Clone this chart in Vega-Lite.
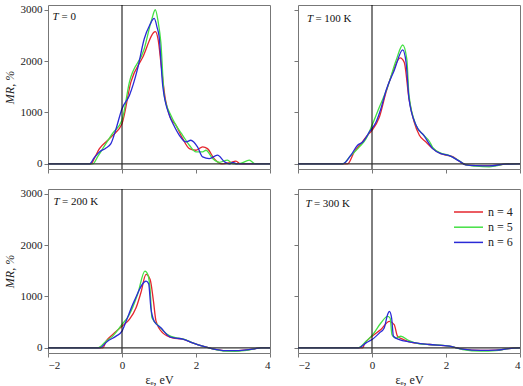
{
 "$schema": "https://vega.github.io/schema/vega-lite/v6.json",
 "padding": {"left": 2, "top": 3, "right": 0, "bottom": 0},
 "columns": 2,
 "bounds": "flush",
 "spacing": {"row": 20, "column": 28},
 "datasets": {
  "t0": [
   {"n":4,"e":-2,"mr":0},{"n":4,"e":-0.84,"mr":0},{"n":4,"e":-0.72,"mr":150},{"n":4,"e":-0.61,"mr":296},{"n":4,"e":-0.4,"mr":450},{"n":4,"e":-0.25,"mr":556},{"n":4,"e":0,"mr":781},{"n":4,"e":0.24,"mr":1590},{"n":4,"e":0.56,"mr":2073},{"n":4,"e":0.9,"mr":2571},{"n":4,"e":0.98,"mr":2400},{"n":4,"e":1.05,"mr":1977},{"n":4,"e":1.17,"mr":1265},{"n":4,"e":1.3,"mr":910},{"n":4,"e":1.46,"mr":750},{"n":4,"e":1.64,"mr":490},{"n":4,"e":1.82,"mr":297},{"n":4,"e":2.0,"mr":265},{"n":4,"e":2.18,"mr":330},{"n":4,"e":2.31,"mr":296},{"n":4,"e":2.49,"mr":103},{"n":4,"e":2.7,"mr":0},{"n":4,"e":2.9,"mr":20},{"n":4,"e":3.08,"mr":52},{"n":4,"e":3.2,"mr":0},{"n":4,"e":4,"mr":0},
   {"n":5,"e":-2,"mr":0},{"n":5,"e":-0.79,"mr":0},{"n":5,"e":-0.65,"mr":150},{"n":5,"e":-0.52,"mr":296},{"n":5,"e":-0.25,"mr":600},{"n":5,"e":0,"mr":847},{"n":5,"e":0.2,"mr":1590},{"n":5,"e":0.6,"mr":2235},{"n":5,"e":0.8,"mr":2800},{"n":5,"e":0.9,"mr":2998},{"n":5,"e":0.98,"mr":2750},{"n":5,"e":1.05,"mr":2364},{"n":5,"e":1.14,"mr":1331},{"n":5,"e":1.32,"mr":944},{"n":5,"e":1.46,"mr":750},{"n":5,"e":1.64,"mr":556},{"n":5,"e":1.82,"mr":362},{"n":5,"e":2.0,"mr":232},{"n":5,"e":2.18,"mr":232},{"n":5,"e":2.27,"mr":265},{"n":5,"e":2.45,"mr":103},{"n":5,"e":2.63,"mr":30},{"n":5,"e":2.85,"mr":71},{"n":5,"e":3.0,"mr":0},{"n":5,"e":3.2,"mr":10},{"n":5,"e":3.44,"mr":71},{"n":5,"e":3.6,"mr":0},{"n":5,"e":4,"mr":0},
   {"n":6,"e":-2,"mr":0},{"n":6,"e":-0.88,"mr":0},{"n":6,"e":-0.75,"mr":120},{"n":6,"e":-0.61,"mr":232},{"n":6,"e":-0.45,"mr":300},{"n":6,"e":-0.3,"mr":394},{"n":6,"e":-0.16,"mr":684},{"n":6,"e":0,"mr":1072},{"n":6,"e":0.2,"mr":1331},{"n":6,"e":0.42,"mr":1847},{"n":6,"e":0.6,"mr":2428},{"n":6,"e":0.75,"mr":2700},{"n":6,"e":0.87,"mr":2829},{"n":6,"e":0.95,"mr":2650},{"n":6,"e":1.0,"mr":2494},{"n":6,"e":1.1,"mr":1525},{"n":6,"e":1.28,"mr":944},{"n":6,"e":1.4,"mr":750},{"n":6,"e":1.55,"mr":556},{"n":6,"e":1.73,"mr":426},{"n":6,"e":1.86,"mr":459},{"n":6,"e":2.04,"mr":330},{"n":6,"e":2.18,"mr":135},{"n":6,"e":2.36,"mr":103},{"n":6,"e":2.58,"mr":168},{"n":6,"e":2.77,"mr":40},{"n":6,"e":2.9,"mr":0},{"n":6,"e":3.0,"mr":30},{"n":6,"e":3.1,"mr":0},{"n":6,"e":4,"mr":0}
  ],
  "t100": [
   {"n":4,"e":-2,"mr":0},{"n":4,"e":-0.66,"mr":0},{"n":4,"e":-0.48,"mr":232},{"n":4,"e":-0.3,"mr":394},{"n":4,"e":-0.12,"mr":556},{"n":4,"e":0,"mr":653},{"n":4,"e":0.2,"mr":911},{"n":4,"e":0.38,"mr":1395},{"n":4,"e":0.56,"mr":1783},{"n":4,"e":0.76,"mr":2060},{"n":4,"e":0.87,"mr":1977},{"n":4,"e":1.0,"mr":1266},{"n":4,"e":1.14,"mr":814},{"n":4,"e":1.28,"mr":556},{"n":4,"e":1.46,"mr":426},{"n":4,"e":1.64,"mr":297},{"n":4,"e":1.86,"mr":200},{"n":4,"e":2.0,"mr":170},{"n":4,"e":2.18,"mr":140},{"n":4,"e":2.36,"mr":52},{"n":4,"e":2.54,"mr":-20},{"n":4,"e":2.81,"mr":-35},{"n":4,"e":3.17,"mr":-40},{"n":4,"e":3.35,"mr":-30},{"n":4,"e":3.6,"mr":-5},{"n":4,"e":4,"mr":0},
   {"n":5,"e":-2,"mr":0},{"n":5,"e":-0.79,"mr":0},{"n":5,"e":-0.61,"mr":135},{"n":5,"e":-0.34,"mr":330},{"n":5,"e":-0.16,"mr":490},{"n":5,"e":0,"mr":750},{"n":5,"e":0.2,"mr":1105},{"n":5,"e":0.42,"mr":1492},{"n":5,"e":0.65,"mr":2009},{"n":5,"e":0.83,"mr":2312},{"n":5,"e":0.94,"mr":2041},{"n":5,"e":1.0,"mr":1331},{"n":5,"e":1.19,"mr":750},{"n":5,"e":1.4,"mr":556},{"n":5,"e":1.55,"mr":440},{"n":5,"e":1.64,"mr":320},{"n":5,"e":1.86,"mr":210},{"n":5,"e":2.09,"mr":162},{"n":5,"e":2.36,"mr":60},{"n":5,"e":2.54,"mr":-20},{"n":5,"e":2.81,"mr":-45},{"n":5,"e":3.17,"mr":-58},{"n":5,"e":3.35,"mr":-40},{"n":5,"e":3.6,"mr":-5},{"n":5,"e":4,"mr":0},
   {"n":6,"e":-2,"mr":0},{"n":6,"e":-0.79,"mr":0},{"n":6,"e":-0.57,"mr":168},{"n":6,"e":-0.39,"mr":362},{"n":6,"e":-0.25,"mr":426},{"n":6,"e":-0.07,"mr":620},{"n":6,"e":0.11,"mr":814},{"n":6,"e":0.24,"mr":1072},{"n":6,"e":0.38,"mr":1428},{"n":6,"e":0.6,"mr":1816},{"n":6,"e":0.83,"mr":2217},{"n":6,"e":0.92,"mr":1977},{"n":6,"e":1.0,"mr":1266},{"n":6,"e":1.19,"mr":750},{"n":6,"e":1.4,"mr":556},{"n":6,"e":1.64,"mr":297},{"n":6,"e":1.86,"mr":200},{"n":6,"e":2.09,"mr":162},{"n":6,"e":2.36,"mr":52},{"n":6,"e":2.54,"mr":-20},{"n":6,"e":2.81,"mr":-35},{"n":6,"e":3.17,"mr":-40},{"n":6,"e":3.6,"mr":-5},{"n":6,"e":4,"mr":0}
  ],
  "t200": [
   {"n":4,"e":-2,"mr":0},{"n":4,"e":-0.52,"mr":0},{"n":4,"e":-0.43,"mr":130},{"n":4,"e":-0.25,"mr":260},{"n":4,"e":0,"mr":421},{"n":4,"e":0.2,"mr":552},{"n":4,"e":0.38,"mr":779},{"n":4,"e":0.51,"mr":1071},{"n":4,"e":0.65,"mr":1428},{"n":4,"e":0.76,"mr":1330},{"n":4,"e":0.85,"mr":909},{"n":4,"e":0.92,"mr":519},{"n":4,"e":1.1,"mr":292},{"n":4,"e":1.37,"mr":195},{"n":4,"e":1.64,"mr":170},{"n":4,"e":1.91,"mr":97},{"n":4,"e":2.18,"mr":32},{"n":4,"e":2.45,"mr":-20},{"n":4,"e":2.8,"mr":-55},{"n":4,"e":3.05,"mr":-55},{"n":4,"e":3.3,"mr":-45},{"n":4,"e":3.58,"mr":-20},{"n":4,"e":3.75,"mr":0},{"n":4,"e":4,"mr":0},
   {"n":5,"e":-2,"mr":0},{"n":5,"e":-0.66,"mr":0},{"n":5,"e":-0.43,"mr":130},{"n":5,"e":-0.25,"mr":228},{"n":5,"e":0,"mr":455},{"n":5,"e":0.2,"mr":650},{"n":5,"e":0.42,"mr":1039},{"n":5,"e":0.62,"mr":1494},{"n":5,"e":0.7,"mr":1420},{"n":5,"e":0.76,"mr":1136},{"n":5,"e":0.81,"mr":584},{"n":5,"e":1.0,"mr":422},{"n":5,"e":1.23,"mr":260},{"n":5,"e":1.46,"mr":195},{"n":5,"e":1.64,"mr":175},{"n":5,"e":1.91,"mr":97},{"n":5,"e":2.18,"mr":32},{"n":5,"e":2.45,"mr":-20},{"n":5,"e":2.8,"mr":-65},{"n":5,"e":3.05,"mr":-68},{"n":5,"e":3.3,"mr":-55},{"n":5,"e":3.58,"mr":-20},{"n":5,"e":3.75,"mr":0},{"n":5,"e":4,"mr":0},
   {"n":6,"e":-2,"mr":0},{"n":6,"e":-0.61,"mr":0},{"n":6,"e":-0.39,"mr":130},{"n":6,"e":-0.16,"mr":228},{"n":6,"e":0,"mr":325},{"n":6,"e":0.11,"mr":519},{"n":6,"e":0.33,"mr":909},{"n":6,"e":0.65,"mr":1299},{"n":6,"e":0.72,"mr":1250},{"n":6,"e":0.78,"mr":779},{"n":6,"e":0.87,"mr":519},{"n":6,"e":1.05,"mr":390},{"n":6,"e":1.28,"mr":220},{"n":6,"e":1.46,"mr":190},{"n":6,"e":1.64,"mr":170},{"n":6,"e":1.91,"mr":97},{"n":6,"e":2.18,"mr":32},{"n":6,"e":2.45,"mr":-20},{"n":6,"e":2.8,"mr":-55},{"n":6,"e":3.05,"mr":-55},{"n":6,"e":3.3,"mr":-45},{"n":6,"e":3.58,"mr":-20},{"n":6,"e":3.75,"mr":0},{"n":6,"e":4,"mr":0}
  ],
  "t300": [
   {"n":4,"e":-2,"mr":0},{"n":4,"e":-0.25,"mr":0},{"n":4,"e":-0.21,"mr":65},{"n":4,"e":0,"mr":226},{"n":4,"e":0.24,"mr":355},{"n":4,"e":0.47,"mr":517},{"n":4,"e":0.6,"mr":452},{"n":4,"e":0.69,"mr":226},{"n":4,"e":0.85,"mr":160},{"n":4,"e":1.1,"mr":100},{"n":4,"e":1.55,"mr":65},{"n":4,"e":2.09,"mr":32},{"n":4,"e":2.45,"mr":-25},{"n":4,"e":2.94,"mr":-50},{"n":4,"e":3.35,"mr":-45},{"n":4,"e":3.7,"mr":-13},{"n":4,"e":4,"mr":0},
   {"n":5,"e":-2,"mr":0},{"n":5,"e":-0.38,"mr":0},{"n":5,"e":-0.16,"mr":129},{"n":5,"e":0.02,"mr":258},{"n":5,"e":0.24,"mr":484},{"n":5,"e":0.42,"mr":613},{"n":5,"e":0.49,"mr":580},{"n":5,"e":0.54,"mr":258},{"n":5,"e":0.65,"mr":190},{"n":5,"e":0.78,"mr":226},{"n":5,"e":1.0,"mr":140},{"n":5,"e":1.28,"mr":80},{"n":5,"e":1.55,"mr":65},{"n":5,"e":2.09,"mr":32},{"n":5,"e":2.45,"mr":-32},{"n":5,"e":2.94,"mr":-65},{"n":5,"e":3.35,"mr":-52},{"n":5,"e":3.7,"mr":-13},{"n":5,"e":4,"mr":0},
   {"n":6,"e":-2,"mr":0},{"n":6,"e":-0.36,"mr":0},{"n":6,"e":-0.16,"mr":97},{"n":6,"e":0,"mr":161},{"n":6,"e":0.2,"mr":290},{"n":6,"e":0.33,"mr":388},{"n":6,"e":0.42,"mr":646},{"n":6,"e":0.47,"mr":711},{"n":6,"e":0.53,"mr":581},{"n":6,"e":0.58,"mr":226},{"n":6,"e":0.74,"mr":161},{"n":6,"e":1.0,"mr":116},{"n":6,"e":1.55,"mr":65},{"n":6,"e":2.09,"mr":32},{"n":6,"e":2.45,"mr":-25},{"n":6,"e":2.94,"mr":-50},{"n":6,"e":3.35,"mr":-45},{"n":6,"e":3.7,"mr":-13},{"n":6,"e":4,"mr":0}
  ]
 },
 "concat": [
  {
   "width": 222, "height": 164,
   "layer": [
    {"data": {"name": "t0"}, "mark": {"type": "line", "interpolate": "monotone", "strokeWidth": 1.3},
     "encoding": {
      "x": {"field": "e", "type": "quantitative", "scale": {"domain": [-2, 4], "nice": false, "zero": false}, "axis": {"labels": false, "title": null, "values": [-2,-1.5,-1,-0.5,0,0.5,1,1.5,2,2.5,3,3.5,4]}},
      "y": {"field": "mr", "type": "quantitative", "scale": {"domain": [-100, 3090], "nice": false}, "axis": {"title": "MR, %", "format": "d", "values": [0,500,1000,1500,2000,2500,3000], "labelExpr": "datum.value % 1000 == 0 ? datum.label : ''"}},
      "color": {"field": "n", "type": "nominal", "scale": {"domain": [4, 5, 6], "range": ["#e5262e", "#44e044", "#2a2ad6"]}, "legend": {"labelExpr": "'n = ' + datum.label"}}
     }},
    {"data": {"values": [{}]}, "mark": {"type": "rule", "color": "#000", "strokeWidth": 1}, "encoding": {"x": {"datum": 0}}},
    {"data": {"values": [{}]}, "mark": {"type": "rule", "color": "#333", "strokeWidth": 1.3}, "encoding": {"y": {"datum": 0}}},
    {"data": {"values": [{}]}, "mark": {"type": "text", "align": "left", "baseline": "middle", "fontStyle": "italic", "fontSize": 11}, "encoding": {"x": {"datum": -1.88}, "y": {"datum": 2850}, "text": {"value": "T"}}},
    {"data": {"values": [{}]}, "mark": {"type": "text", "align": "left", "baseline": "middle", "dx": 9, "fontSize": 11}, "encoding": {"x": {"datum": -1.88}, "y": {"datum": 2850}, "text": {"value": "= 0"}}}
   ]
  },
  {
   "width": 222, "height": 164,
   "layer": [
    {"data": {"name": "t100"}, "mark": {"type": "line", "interpolate": "monotone", "strokeWidth": 1.3},
     "encoding": {
      "x": {"field": "e", "type": "quantitative", "scale": {"domain": [-2, 4], "nice": false, "zero": false}, "axis": {"labels": false, "title": null, "values": [-2,-1.5,-1,-0.5,0,0.5,1,1.5,2,2.5,3,3.5,4]}},
      "y": {"field": "mr", "type": "quantitative", "scale": {"domain": [-100, 3090], "nice": false}, "axis": {"labels": false, "title": null, "values": [0,500,1000,1500,2000,2500,3000]}},
      "color": {"field": "n", "type": "nominal", "scale": {"domain": [4, 5, 6], "range": ["#e5262e", "#44e044", "#2a2ad6"]}, "legend": {"labelExpr": "'n = ' + datum.label"}}
     }},
    {"data": {"values": [{}]}, "mark": {"type": "rule", "color": "#000", "strokeWidth": 1}, "encoding": {"x": {"datum": 0}}},
    {"data": {"values": [{}]}, "mark": {"type": "rule", "color": "#333", "strokeWidth": 1.3}, "encoding": {"y": {"datum": 0}}},
    {"data": {"values": [{}]}, "mark": {"type": "text", "align": "left", "baseline": "middle", "fontStyle": "italic", "fontSize": 11}, "encoding": {"x": {"datum": -1.76}, "y": {"datum": 2820}, "text": {"value": "T"}}},
    {"data": {"values": [{}]}, "mark": {"type": "text", "align": "left", "baseline": "middle", "dx": 8.5, "fontSize": 11}, "encoding": {"x": {"datum": -1.76}, "y": {"datum": 2820}, "text": {"value": "= 100 K"}}}
   ]
  },
  {
   "width": 222, "height": 164,
   "layer": [
    {"data": {"name": "t200"}, "mark": {"type": "line", "interpolate": "monotone", "strokeWidth": 1.3},
     "encoding": {
      "x": {"field": "e", "type": "quantitative", "scale": {"domain": [-2, 4], "nice": false, "zero": false}, "axis": {"title": "εₑ, eV", "format": "d", "values": [-2,-1.5,-1,-0.5,0,0.5,1,1.5,2,2.5,3,3.5,4], "labelExpr": "datum.value % 1 == 0 ? datum.label : ''"}},
      "y": {"field": "mr", "type": "quantitative", "scale": {"domain": [-100, 3090], "nice": false}, "axis": {"title": "MR, %", "format": "d", "values": [0,500,1000,1500,2000,2500,3000], "labelExpr": "datum.value % 1000 == 0 ? datum.label : ''"}},
      "color": {"field": "n", "type": "nominal", "scale": {"domain": [4, 5, 6], "range": ["#e5262e", "#44e044", "#2a2ad6"]}, "legend": {"labelExpr": "'n = ' + datum.label"}}
     }},
    {"data": {"values": [{}]}, "mark": {"type": "rule", "color": "#000", "strokeWidth": 1}, "encoding": {"x": {"datum": 0}}},
    {"data": {"values": [{}]}, "mark": {"type": "rule", "color": "#333", "strokeWidth": 1.3}, "encoding": {"y": {"datum": 0}}},
    {"data": {"values": [{}]}, "mark": {"type": "text", "align": "left", "baseline": "middle", "fontStyle": "italic", "fontSize": 11}, "encoding": {"x": {"datum": -1.85}, "y": {"datum": 2840}, "text": {"value": "T"}}},
    {"data": {"values": [{}]}, "mark": {"type": "text", "align": "left", "baseline": "middle", "dx": 8.5, "fontSize": 11}, "encoding": {"x": {"datum": -1.85}, "y": {"datum": 2840}, "text": {"value": "= 200 K"}}}
   ]
  },
  {
   "width": 222, "height": 164,
   "layer": [
    {"data": {"name": "t300"}, "mark": {"type": "line", "interpolate": "monotone", "strokeWidth": 1.3},
     "encoding": {
      "x": {"field": "e", "type": "quantitative", "scale": {"domain": [-2, 4], "nice": false, "zero": false}, "axis": {"title": "εₑ, eV", "format": "d", "values": [-2,-1.5,-1,-0.5,0,0.5,1,1.5,2,2.5,3,3.5,4], "labelExpr": "datum.value % 1 == 0 ? datum.label : ''"}},
      "y": {"field": "mr", "type": "quantitative", "scale": {"domain": [-100, 3090], "nice": false}, "axis": {"labels": false, "title": null, "values": [0,500,1000,1500,2000,2500,3000]}},
      "color": {"field": "n", "type": "nominal", "scale": {"domain": [4, 5, 6], "range": ["#e5262e", "#44e044", "#2a2ad6"]}, "legend": {"labelExpr": "'n = ' + datum.label"}}
     }},
    {"data": {"values": [{}]}, "mark": {"type": "rule", "color": "#000", "strokeWidth": 1}, "encoding": {"x": {"datum": 0}}},
    {"data": {"values": [{}]}, "mark": {"type": "rule", "color": "#333", "strokeWidth": 1.3}, "encoding": {"y": {"datum": 0}}},
    {"data": {"values": [{}]}, "mark": {"type": "text", "align": "left", "baseline": "middle", "fontStyle": "italic", "fontSize": 11}, "encoding": {"x": {"datum": -1.8}, "y": {"datum": 2790}, "text": {"value": "T"}}},
    {"data": {"values": [{}]}, "mark": {"type": "text", "align": "left", "baseline": "middle", "dx": 8.5, "fontSize": 11}, "encoding": {"x": {"datum": -1.8}, "y": {"datum": 2790}, "text": {"value": "= 300 K"}}}
   ]
  }
 ],
 "resolve": {"scale": {"color": "shared"}},
 "config": {
  "font": "Liberation Serif, Times New Roman, DejaVu Serif, serif",
  "text": {"font": "Liberation Serif, Times New Roman, DejaVu Serif, serif", "color": "#111"},
  "view": {"stroke": "#777", "strokeWidth": 1},
  "axis": {"domain": false, "grid": false, "tickColor": "#777", "tickSize": 4, "labelPadding": 2, "labelFont": "Liberation Serif, Times New Roman, DejaVu Serif, serif", "labelFontSize": 11, "labelColor": "#222", "titleFont": "Liberation Serif, Times New Roman, DejaVu Serif, serif", "titleFontSize": 12, "titleFontWeight": "normal", "titleColor": "#222", "titlePadding": 4},
  "axisY": {"titleFontStyle": "italic"},
  "legend": {"orient": "none", "legendX": 425, "legendY": 201, "title": null, "padding": 0, "symbolType": "M-6.25,0H1", "symbolSize": 64, "symbolStrokeWidth": 1.5, "labelFont": "Liberation Serif, Times New Roman, DejaVu Serif, serif", "labelFontSize": 12, "labelColor": "#222", "labelOffset": 3, "rowPadding": 3.2}
 }
}
